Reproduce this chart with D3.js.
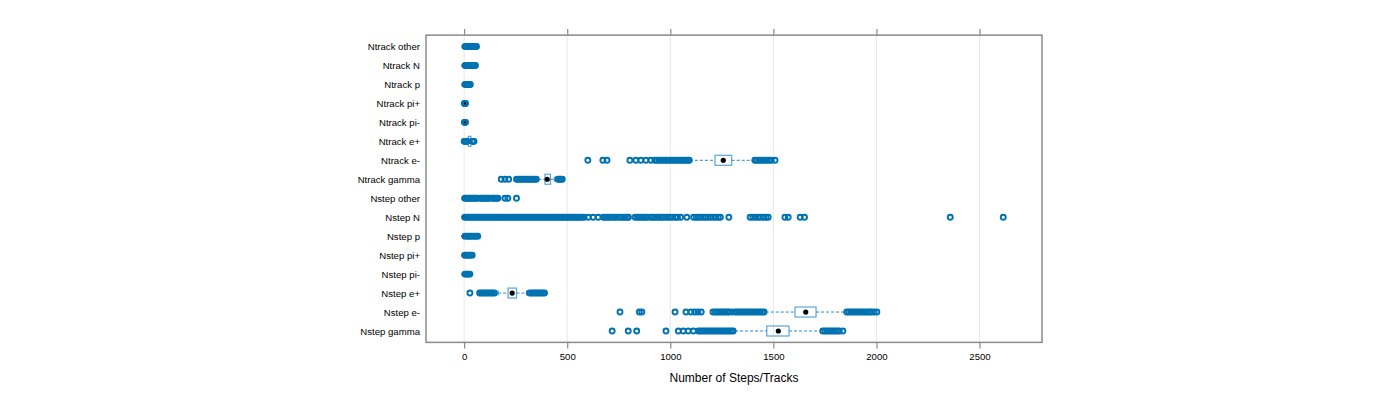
<!DOCTYPE html>
<html>
<head>
<meta charset="utf-8">
<script src="https://cdn.jsdelivr.net/npm/d3@7"></script>
<style>
  body { margin: 0; background: #fff; }
  svg { display: block; font-family: "Liberation Sans", Arial, Helvetica, sans-serif; }
</style>
</head>
<body>
<div id="chart"></div>
<script>
// === Box-and-whisker chart: steps / tracks per particle type ===

// categories, top row first
const categories = [
  'Ntrack other', 'Ntrack N', 'Ntrack p', 'Ntrack pi+', 'Ntrack pi-', 'Ntrack e+', 'Ntrack e-', 'Ntrack gamma',
  'Nstep other', 'Nstep N', 'Nstep p', 'Nstep pi+', 'Nstep pi-', 'Nstep e+', 'Nstep e-', 'Nstep gamma'
];

// five-number summaries, same order as categories
const whiskerLo = [0, 0, 0, 0, 0, 17, 1095, 360, 0, 0, 0, 0, 0, 165, 1463, 1314];
const quart1    = [0, 0, 0, 0, 0, 20, 1217, 392, 0, 0, 0, 0, 0, 213, 1605, 1468];
const medians   = [0, 0, 0, 0, 0, 27, 1257, 403, 0, 0, 0, 0, 0, 233, 1657, 1524];
const quart3    = [0, 0, 0, 0, 0, 33, 1298, 419, 0, 0, 0, 0, 0, 254, 1707, 1576];
const whiskerHi = [0, 0, 0, 0, 0, 37, 1403, 437, 0, 0, 0, 0, 0, 303, 1853, 1730];

// outliers per category
const outliers = [
  [5, 10, 15, 20, 25, 30, 35, 40, 45, 50, 55, 60],
  [5, 10, 15, 20, 25, 30, 35, 40, 45, 50, 55],
  [5, 10, 15, 20, 25, 30],
  [1, 4, 7],
  [1, 4, 7],
  [0, 4, 8, 12, 15, 40, 44, 48],
  [600, 673, 693, 804, 833, 857, 882, 906, 925, 935, 945, 955, 965, 975, 985, 995, 1005, 1015, 1025, 1035,
   1045, 1055, 1065, 1075, 1085, 1092, 1410, 1420, 1430, 1440, 1450, 1460, 1470, 1480, 1490, 1508],
  [180, 198, 216, 254, 262, 271, 280, 289, 298, 307, 316, 325, 334, 342, 350, 455, 462, 469, 476],
  [3, 10, 17, 24, 31, 38, 45, 52, 59, 66, 80, 87, 94, 101, 108, 115, 122, 136, 143, 150, 157, 164, 198, 212, 254],
  [3, 12, 21, 30, 39, 48, 57, 66, 75, 84, 93, 102, 111, 120, 129, 138, 147, 156, 165, 174, 183, 192, 201, 210,
   219, 228, 237, 246, 255, 264, 273, 282, 291, 300, 309, 318, 327, 336, 345, 354, 363, 372, 381, 390, 399, 408,
   417, 426, 435, 444, 453, 462, 471, 480, 489, 498, 507, 516, 525, 534, 543, 552, 561, 570,
   582, 602, 626, 650, 675, 685, 695, 703, 715, 725, 735, 748, 760, 770, 780, 790, 797,
   829, 840, 850, 860, 870, 880, 888, 904, 914, 924, 936, 946, 956, 966, 980, 990, 1000, 1012, 1025,
   1035, 1050, 1080, 1113, 1125, 1135, 1147, 1160, 1170, 1182, 1195, 1208, 1220, 1232, 1243, 1284,
   1387, 1400, 1414, 1428, 1440, 1452, 1464, 1475, 1556, 1572, 1630, 1651, 2358, 2615],
  [4, 12, 20, 28, 36, 44, 52, 60, 66],
  [3, 10, 17, 24, 31, 39],
  [4, 10, 16, 22, 28],
  [28, 75, 84, 93, 102, 111, 120, 129, 138, 147, 318, 327, 336, 345, 354, 363, 372, 381, 390],
  [756, 850, 862, 1023, 1076, 1100, 1118, 1134, 1150, 1207, 1217, 1227, 1237, 1247, 1257, 1267, 1277, 1284, 1298,
   1315, 1325, 1335, 1345, 1355, 1365, 1375, 1385, 1395, 1405, 1415, 1425, 1435, 1445, 1455,
   1856, 1866, 1876, 1886, 1896, 1906, 1916, 1926, 1936, 1946, 1956, 1966, 1976, 1989, 2002],
  [718, 796, 837, 979, 1039, 1063, 1087, 1112, 1136, 1146, 1156, 1166, 1176, 1186, 1196, 1206, 1216, 1226, 1236,
   1246, 1256, 1266, 1276, 1286, 1296, 1305, 1740, 1750, 1760, 1770, 1780, 1790, 1800, 1810, 1820, 1837]
];

const xTicks = [0, 500, 1000, 1500, 2000, 2500];
const xTitle = 'Number of Steps/Tracks';

const POINT_COLOR = '#0072B2';
const BOX_COLOR = '#5aa5dc';
const WHISKER_COLOR = '#2c8ad0';
const FRAME_COLOR = '#8a8a8a';
const BOX_HALF = 5;

function renderChart() {
  const width = 1400, height = 400;
  const svg = d3.select('#chart').append('svg')
    .attr('width', width).attr('height', height);

  const x = d3.scaleLinear().domain([-185, 2803]).range([426, 1042]);
  const y = d3.scalePoint().domain(categories).range([46.5, 331]);
  const step = y.step();
  const top = y(categories[0]) - 0.6 * step;
  const bottom = y(categories[categories.length - 1]) + 0.6 * step;
  const left = x.range()[0], right = x.range()[1];

  // grid lines
  svg.append('g').selectAll('line').data(xTicks).join('line')
    .attr('x1', d => x(d)).attr('x2', d => x(d))
    .attr('y1', top).attr('y2', bottom)
    .attr('stroke', '#e8e8e8').attr('stroke-width', 1);

  // top and bottom ticks
  const axB = svg.append('g').attr('transform', `translate(0,${bottom})`)
    .call(d3.axisBottom(x).tickValues(xTicks).tickFormat(d3.format('d')).tickSize(6).tickPadding(5));
  const axT = svg.append('g').attr('transform', `translate(0,${top})`)
    .call(d3.axisTop(x).tickValues(xTicks).tickSize(6).tickFormat(''));
  for (const ax of [axB, axT]) {
    ax.select('.domain').remove();
    ax.selectAll('.tick line').attr('stroke', FRAME_COLOR).attr('stroke-width', 1.2);
  }
  axB.selectAll('text').attr('fill', '#000').attr('font-size', '9.6px')
    .style('font-family', '"Liberation Sans", Arial, sans-serif');

  // category labels
  const axL = svg.append('g').attr('transform', `translate(${left},0)`)
    .call(d3.axisLeft(y).tickSize(0).tickPadding(6));
  axL.select('.domain').remove();
  axL.selectAll('text').attr('fill', '#000').attr('font-size', '9.6px')
    .style('font-family', '"Liberation Sans", Arial, sans-serif');

  const g = svg.append('g');

  categories.forEach((cat, i) => {
    const cy = y(cat);

    // box
    if (quart3[i] > quart1[i]) {
      g.append('rect')
        .attr('x', x(quart1[i])).attr('y', cy - BOX_HALF)
        .attr('width', x(quart3[i]) - x(quart1[i])).attr('height', 2 * BOX_HALF)
        .attr('fill', 'none').attr('stroke', BOX_COLOR).attr('stroke-width', 1.2);
    }

    // whiskers
    const whiskers = [[whiskerLo[i], quart1[i]], [quart3[i], whiskerHi[i]]];
    for (const [a, b] of whiskers) {
      if (b <= a) continue;
      g.append('line')
        .attr('x1', x(a)).attr('x2', x(b)).attr('y1', cy).attr('y2', cy)
        .attr('stroke', WHISKER_COLOR).attr('stroke-width', 1)
        .attr('stroke-dasharray', '3,2');
    }
    for (const w of [whiskerLo[i], whiskerHi[i]]) {
      if (whiskerHi[i] <= whiskerLo[i]) continue;
      g.append('line')
        .attr('x1', x(w)).attr('x2', x(w)).attr('y1', cy - 2.5).attr('y2', cy + 2.5)
        .attr('stroke', WHISKER_COLOR).attr('stroke-width', 1);
    }

    // median dot
    g.append('circle')
      .attr('cx', x(medians[i])).attr('cy', cy).attr('r', 2.6)
      .attr('fill', '#000');

    // outliers
    g.append('g').selectAll('circle').data(outliers[i]).join('circle')
      .attr('cx', d => x(d)).attr('cy', cy).attr('r', 2.5)
      .attr('fill', 'none').attr('stroke', POINT_COLOR).attr('stroke-width', 1.9);
  });

  // panel frame
  svg.append('rect')
    .attr('x', left).attr('y', top)
    .attr('width', right - left).attr('height', bottom - top)
    .attr('fill', 'none').attr('stroke', FRAME_COLOR).attr('stroke-width', 1.5);

  // axis title
  svg.append('text')
    .attr('x', (left + right) / 2).attr('y', 382)
    .attr('text-anchor', 'middle')
    .attr('font-size', '12px').attr('fill', '#000')
    .text(xTitle);
}

renderChart();
</script>
</body>
</html>
